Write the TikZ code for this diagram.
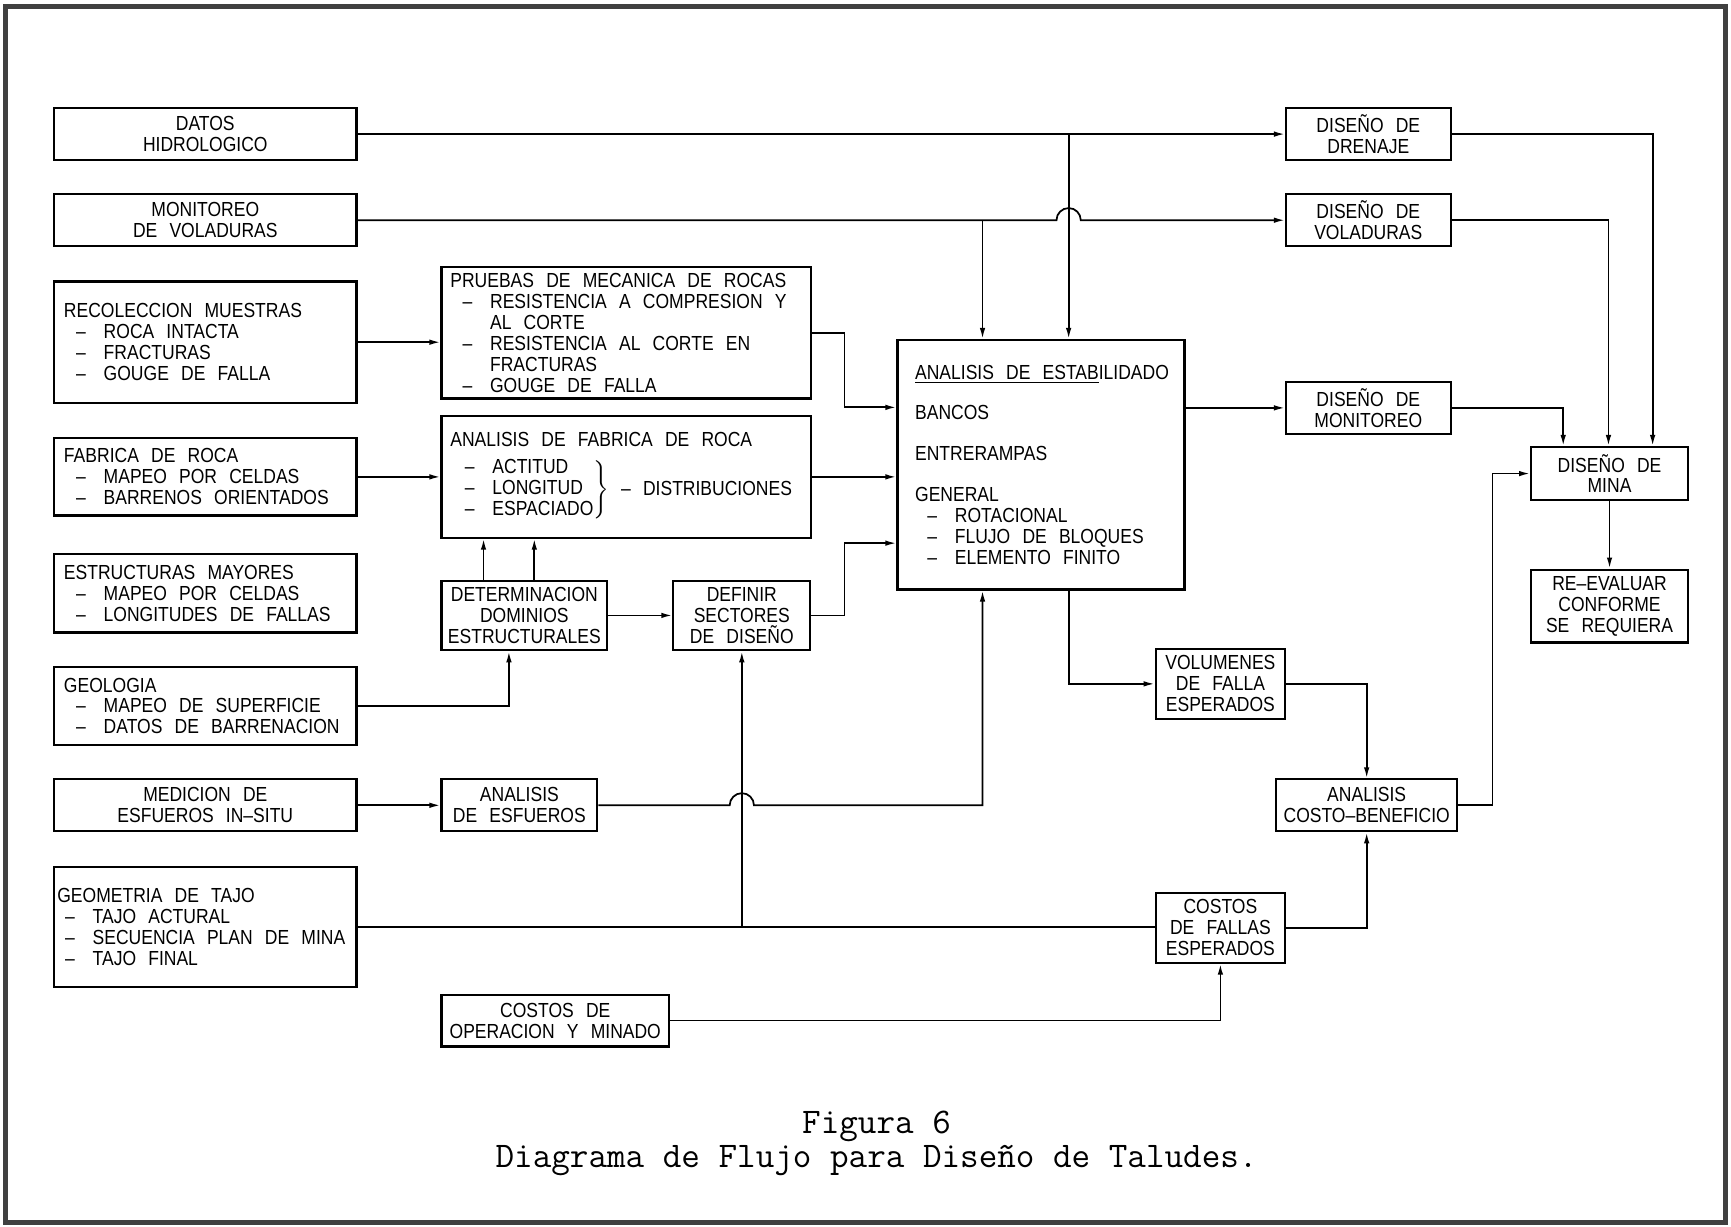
\documentclass[tikz,border=0pt]{standalone}
\usepackage{fontspec}
\usepackage{tikz}
\usetikzlibrary{arrows.meta}

\newfontfamily\boxfamily[Ligatures=TeX, FakeStretch=0.86, WordSpace=2.5]{Liberation Sans}
\newcommand{\boxtext}{\boxfamily\fontsize{10.5}{10.8}\selectfont}
\newcommand{\itm}[2][2.2mm]{\hspace*{#1}\makebox[5mm][l]{--}#2}

\begin{document}
\begin{tikzpicture}[x=0.2mm, y=-0.2mm]
  \tikzstyle{box}=[rectangle, draw=black, line width=1.1pt, anchor=north west, inner ysep=0pt, font=\boxtext]
  \tikzstyle{cbox}=[box, align=center, inner xsep=0.3mm]
  \tikzstyle{lbox}=[box, align=flush left, inner xsep=1.8mm]
  \tikzstyle{line}=[draw, line width=0.9pt]
  \tikzstyle{arrow}=[line, -{Latex[length=2mm, width=1mm]}]
  \tikzstyle{marco}=[draw=black!75, line width=0.9mm]

  \useasboundingbox (0,0) rectangle (1568,1111);
  \draw [marco] (5,6) rectangle (1563,1107);

  % left column
  \node (datos) [cbox, minimum width=54.8mm, minimum height=9.4mm] at (48,97) {DATOS\\HIDROLOGICO};
  \node (monit) [cbox, minimum width=54.8mm, minimum height=9.4mm] at (48,175) {MONITOREO\\DE VOLADURAS};
  \node (recol) [lbox, text width=51.2mm, minimum width=54.8mm, minimum height=22mm] at (48,254)
    {RECOLECCION MUESTRAS\\\itm{ROCA INTACTA}\\\itm{FRACTURAS}\\\itm{GOUGE DE FALLA}};
  \node (fabrica) [lbox, text width=51.2mm, minimum width=54.8mm, minimum height=14mm] at (48,396)
    {FABRICA DE ROCA\\\itm{MAPEO POR CELDAS}\\\itm{BARRENOS ORIENTADOS}};
  \node (estruct) [lbox, text width=51.2mm, minimum width=54.8mm, minimum height=14.2mm] at (48,501)
    {ESTRUCTURAS MAYORES\\\itm{MAPEO POR CELDAS}\\\itm{LONGITUDES DE FALLAS}};
  \node (geolog) [lbox, text width=51.2mm, minimum width=54.8mm, minimum height=14.2mm] at (48,603)
    {GEOLOGIA\\\itm{MAPEO DE SUPERFICIE}\\\itm{DATOS DE BARRENACION}};
  \node (medicion) [cbox, minimum width=54.8mm, minimum height=9.4mm] at (48,705) {MEDICION DE\\ESFUEROS IN--SITU};
  \node (geomet) [lbox, inner xsep=0.6mm, text width=53.6mm, minimum width=54.8mm, minimum height=21.8mm] at (48,784)
    {GEOMETRIA DE TAJO\\\itm[1.4mm]{TAJO ACTURAL}\\\itm[1.4mm]{SECUENCIA PLAN DE MINA}\\\itm[1.4mm]{TAJO FINAL}};

  % second column
  \node (pruebas) [lbox, inner xsep=1.6mm, text width=63.8mm, minimum width=67mm, minimum height=23.8mm] at (399,241)
    {PRUEBAS DE MECANICA DE ROCAS\\\itm{RESISTENCIA A COMPRESION Y}\\\hspace*{7.2mm}AL CORTE\\
     \itm{RESISTENCIA AL CORTE EN}\\\hspace*{7.2mm}FRACTURAS\\\itm{GOUGE DE FALLA}};
  \node (anfab) [lbox, inner xsep=1.6mm, text width=63.8mm, minimum width=67mm, minimum height=22mm] at (399,376)
    {ANALISIS DE FABRICA DE ROCA\\[5pt]
     $\left.\begin{tabular}{@{}l@{}}\itm{ACTITUD}\\\itm{LONGITUD}\\\itm{ESPACIADO}\end{tabular}\right\}$\ -- DISTRIBUCIONES};
  \node (determ) [cbox, minimum width=30mm, minimum height=12.6mm] at (399,525) {DETERMINACION\\DOMINIOS\\ESTRUCTURALES};
  \node (definir) [cbox, minimum width=24.8mm, minimum height=12.6mm] at (609,525) {DEFINIR\\SECTORES\\DE DISEÑO};
  \node (anesf) [cbox, minimum width=28.2mm, minimum height=9.4mm] at (399,705) {ANALISIS\\DE ESFUEROS};
  \node (costop) [cbox, minimum width=41.2mm, minimum height=9.4mm] at (399,900) {COSTOS DE\\OPERACION Y MINADO};

  % centre
  \node (estab) [lbox, inner xsep=3.2mm, text width=45.6mm, minimum width=52mm, minimum height=45.2mm] at (812,307)
    {\underline{ANALISIS DE ESTAB}ILIDADO\\[3.6mm]BANCOS\\[3.6mm]ENTRERAMPAS\\[3.6mm]GENERAL\\
     \itm{ROTACIONAL}\\\itm{FLUJO DE BLOQUES}\\\itm{ELEMENTO FINITO}};
  \node (volum) [cbox, minimum width=23.4mm, minimum height=12.6mm] at (1046,587) {VOLUMENES\\DE FALLA\\ESPERADOS};
  \node (costfal) [cbox, minimum width=23.4mm, minimum height=12.6mm] at (1046,808) {COSTOS\\DE FALLAS\\ESPERADOS};
  \node (costben) [cbox, minimum width=32.8mm, minimum height=9.4mm] at (1155,705) {ANALISIS\\COSTO--BENEFICIO};

  % right column
  \node (drenaje) [cbox, minimum width=29.8mm, minimum height=9.4mm] at (1164,97) {DISEÑO DE\\DRENAJE};
  \node (volad) [cbox, minimum width=29.8mm, minimum height=9.4mm] at (1164,175) {DISEÑO DE\\VOLADURAS};
  \node (monitd) [cbox, minimum width=29.8mm, minimum height=9.4mm] at (1164,345) {DISEÑO DE\\MONITOREO};
  \node (mina) [cbox, minimum width=28.4mm, minimum height=9.6mm] at (1386,404) {DISEÑO DE\\MINA};
  \node (reeval) [cbox, minimum width=28.4mm, minimum height=13.2mm] at (1386,515) {RE--EVALUAR\\CONFORME\\SE REQUIERA};

  \node (titulo) [align=center, inner sep=0pt, font=\ttfamily\fontsize{18.6}{17.6}\selectfont] at (794,1036)
    {Figura 6\\Diagrama de Flujo para Diseño de Taludes.};

  % bends and crossings
  \coordinate (e1) at ([xshift=15.6mm]estab.north west);
  \coordinate (e2) at ([xshift=31.2mm]estab.north west);
  \coordinate (hopA) at (monit -| e2);
  \coordinate (hopB) at (anesf -| definir);
  \coordinate (bus1) at (765,369);
  \coordinate (bus2) at (765,492);
  \coordinate (bus3) at ([xshift=-6.8mm]mina.west);
  \coordinate (dA) at ([xshift=7.8mm]determ.north west);
  \coordinate (dB) at ([xshift=17mm]determ.north west);
  \coordinate (dC) at ([xshift=12.4mm]determ.south west);

  \draw [arrow] (datos) -- (drenaje);
  \draw [arrow] (datos -| e2) -- (e2);
  \draw [arrow] (monit) -- ([xshift=-2.2mm]hopA) arc[start angle=180, end angle=0, radius=2.2mm] -- (volad);
  \draw [arrow] (monit -| e1) -- (e1);
  \draw [arrow] (recol) -- (recol -| pruebas.west);
  \draw [arrow] (pruebas) -| (bus1) -- (bus1 -| estab.west);
  \draw [arrow] (fabrica) -- (anfab);
  \draw [arrow] (anfab) -- (anfab -| estab.west);
  \draw [arrow] (dA) -- (dA |- anfab.south);
  \draw [arrow] (dB) -- (dB |- anfab.south);
  \draw [arrow] (determ) -- (definir);
  \draw [arrow] (definir) -| (bus2) -- (bus2 -| estab.west);
  \draw [arrow] (geolog) -| (dC);
  \draw [arrow] (medicion) -- (anesf);
  \draw [arrow] (anesf) -- ([xshift=-2.2mm]hopB) arc[start angle=180, end angle=0, radius=2.2mm]
    -- (anesf -| e1) -- (e1 |- estab.south);
  \draw [line] (geomet) -- (geomet -| costfal.west);
  \draw [arrow] (geomet -| definir) -- (definir);
  \draw [arrow] (e2 |- estab.south) |- (volum);
  \draw [arrow] (volum) -| (costben);
  \draw [arrow] (costfal) -| (costben);
  \draw [arrow] (costop) -| (costfal);
  \draw [arrow] (costben) -| (bus3) -- (mina);
  \draw [arrow] (estab.east |- monitd) -- (monitd);
  \draw [arrow] (monitd) -| ([xshift=6mm]mina.north west);
  \draw [arrow] (volad) -| ([xshift=14.2mm]mina.north west);
  \draw [arrow] (drenaje) -| ([xshift=22.2mm]mina.north west);
  \draw [arrow] (mina) -- (reeval);
\end{tikzpicture}
\end{document}
